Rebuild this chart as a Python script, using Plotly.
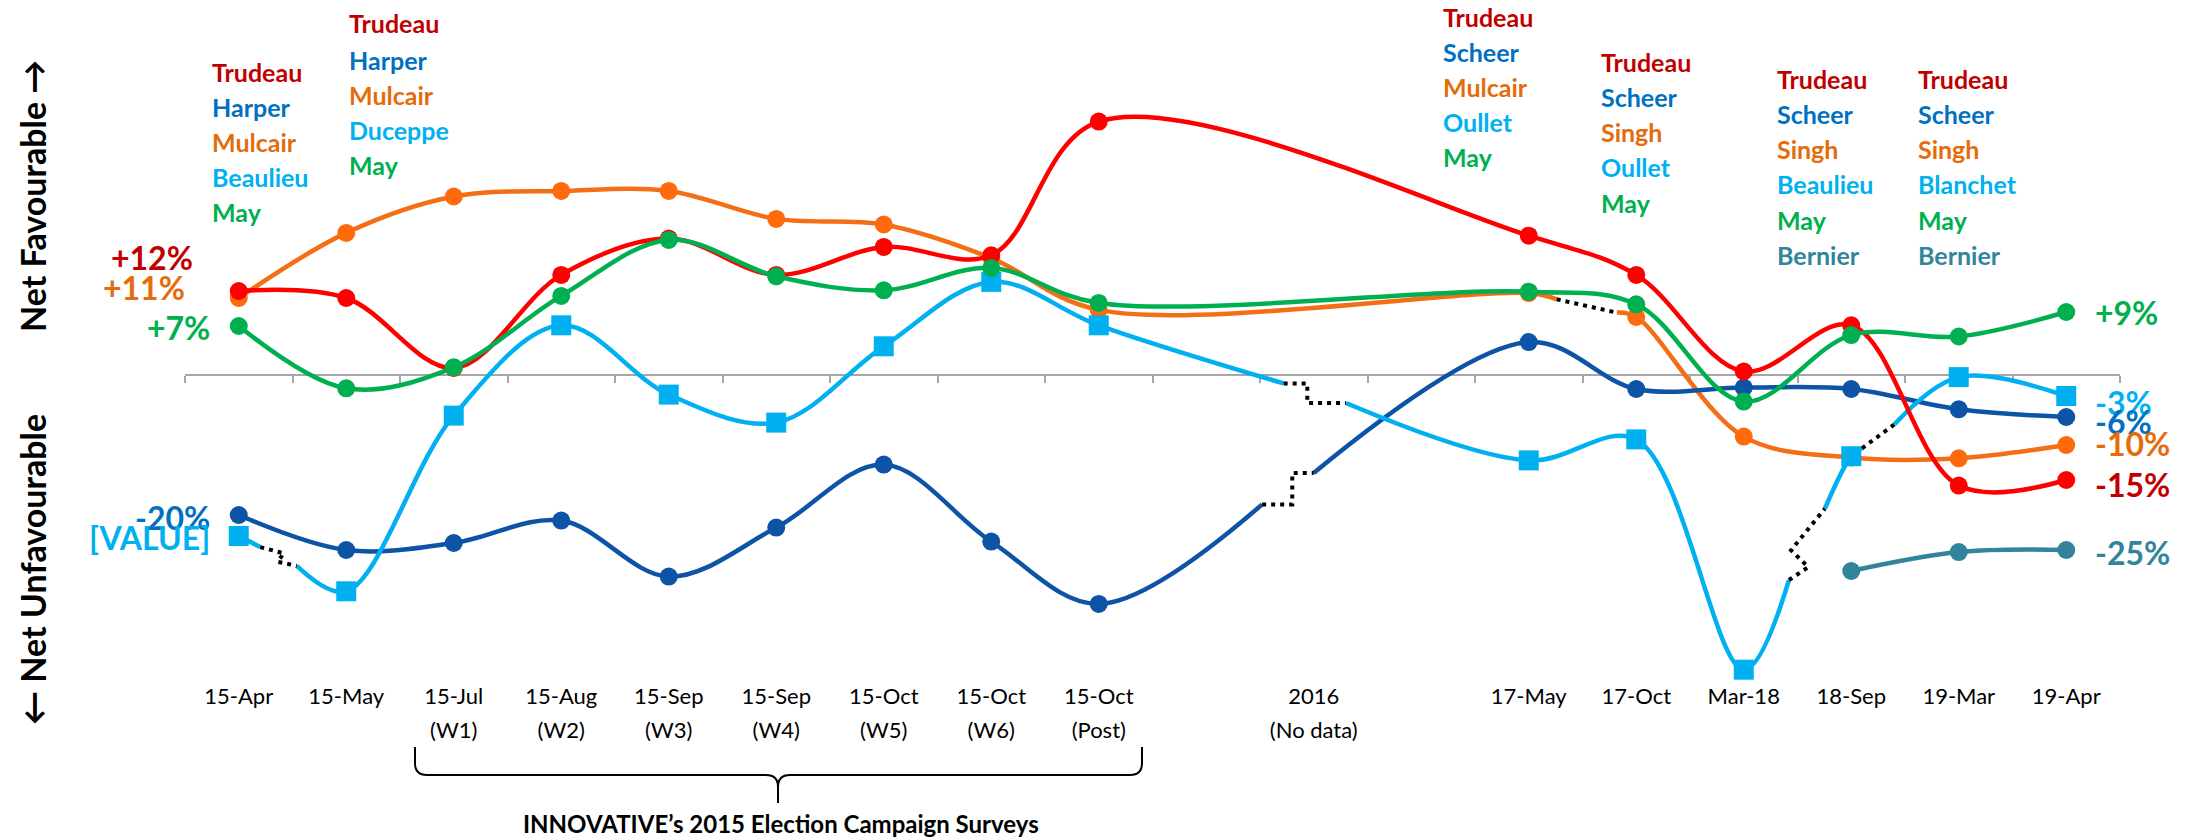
import plotly.graph_objects as go

# ---- categories (18 slots; two blank spacer slots around 2016) ----
categories = ["15-Apr", "15-May", "15-Jul<br>(W1)", "15-Aug<br>(W2)", "15-Sep<br>(W3)",
              "15-Sep<br>(W4)", "15-Oct<br>(W5)", "15-Oct<br>(W6)", "15-Oct<br>(Post)",
              "", "2016<br>(No data)", "", "17-May", "17-Oct", "Mar-18", "18-Sep",
              "19-Mar", "19-Apr"]

# ---- net favourability (%) by party leader ----
liberal = [12, 11, 1, 14.3, 19.5, 14.3, 18.3, 17.1, 36.2, None, None, None,
           19.9, 14.3, 0.5, 7.1, -15.8, -15]
conservative = [-20, -25, -24, -20.8, -28.8, -21.8, -12.8, -23.8, -32.7, None, None, None,
                4.7, -2.0, -1.8, -2.0, -4.9, -6]
ndp = [11, 20.3, 25.5, 26.3, 26.3, 22.3, 21.5, 16.7, 9.3, None, None, None,
       11.7, 8.3, -8.8, -11.8, -11.9, -10]
bloc = [-23, -30.9, -5.8, 7.1, -2.8, -6.8, 4.1, 13.3, 7.1, None, None, None,
        -12.2, -9.2, -42.1, -11.6, -0.3, -3]
green = [7, -1.9, 1.1, 11.3, 19.3, 14.1, 12.1, 15.3, 10.3, None, None, None,
         11.9, 10.1, -3.8, 5.7, 5.5, 9]
ppc = [None] * 15 + [-28, -25.3, -25]

# ---- colours ----
LIB_LINE, LIB_TXT = "#FF0000", "#C00000"
CON_LINE, CON_TXT = "#0D54A7", "#0070C0"
NDP_LINE, NDP_MARK, NDP_TXT = "#F46E16", "#FF6A0C", "#E46C0A"
BQ_LINE, BQ_TXT = "#00B0F0", "#00B0F0"
GRN_LINE, GRN_TXT = "#00B050", "#00B050"
PPC_LINE, PPC_TXT = "#31849B", "#31849B"
AXIS_GREY = "#A6A6A6"
FONT = "Lato"

# series in drawing order: key, values, line colour, marker colour, symbol, leader runs
series = [
    ("ndp", ndp, NDP_LINE, NDP_MARK, "circle", [(0, 12), (13, 17)]),
    ("conservative", conservative, CON_LINE, CON_LINE, "circle", [(0, 8), (12, 17)]),
    ("bloc", bloc, BQ_LINE, BQ_LINE, "square", [(0, 0), (1, 8), (12, 14), (15, 15), (16, 17)]),
    ("liberal", liberal, LIB_LINE, LIB_LINE, "circle", [(0, 17)]),
    ("green", green, GRN_LINE, GRN_LINE, "circle", [(0, 17)]),
    ("ppc", ppc, PPC_LINE, PPC_LINE, "circle", [(15, 17)]),
]

# leader-change connectors: (kind, start fraction, mid fraction, end fraction, jog)
breaks = {
    ("ndp", 12, 13): ("line", 0.26, None, 0.82, None),
    ("conservative", 8, 12): ("step", 0.38, 0.45, 0.50, None),
    ("bloc", 0, 1): ("zig", 0.20, 0.39, 0.54, (0.03, 0.6)),
    ("bloc", 8, 12): ("step", 0.43, 0.485, 0.575, None),
    ("bloc", 14, 15): ("zig", 0.42, 0.52, 0.755, (0.08, -1.2)),
    ("bloc", 15, 16): ("line", 0.10, None, 0.40, None),
}

# ---- layout geometry (pixels) ----
W, H = 2188, 840
L, R, T, B = 185, 2120, 25, 677
ZERO_PX, PX_PER_PCT = 375, 7.0
Y_MAX = (ZERO_PX - T) / PX_PER_PCT
Y_MIN = -(B - ZERO_PX) / PX_PER_PCT
X_MIN, X_MAX = -0.5, len(categories) - 0.5


def xp(px):
    return (px - L) / (R - L)


def yp(py):
    return (B - py) / (B - T)


def along(vals, i, j, f):
    return (i + (j - i) * f, vals[i] + (vals[j] - vals[i]) * f)


fig = go.Figure()

for key, vals, lcol, mcol, symbol, runs in series:
    run_lines = []
    for k, (s, e) in enumerate(runs):
        xs = [i for i in range(s, e + 1) if vals[i] is not None]
        ys = [vals[i] for i in xs]
        if k > 0:
            ps = runs[k - 1][1]
            kind, f1, fm, f2, jog = breaks[(key, ps, s)]
            bx, by = along(vals, ps, s, f2)
            xs, ys = [bx] + xs, [by] + ys
        if k < len(runs) - 1:
            ns = runs[k + 1][0]
            kind, f1, fm, f2, jog = breaks[(key, e, ns)]
            bx, by = along(vals, e, ns, f1)
            xs, ys = xs + [bx], ys + [by]
        run_lines.append((xs, ys))
    for xs, ys in run_lines:
        if len(xs) > 1:
            fig.add_trace(go.Scatter(x=xs, y=ys, mode="lines", cliponaxis=False,
                                     line=dict(color=lcol, width=4.5, shape="spline", smoothing=1.0),
                                     hoverinfo="skip", showlegend=False))
    # dotted connectors at leader changes
    for k in range(len(runs) - 1):
        e, s = runs[k][1], runs[k + 1][0]
        kind, f1, fm, f2, jog = breaks[(key, e, s)]
        p1 = along(vals, e, s, f1)
        p2 = along(vals, e, s, f2)
        if kind == "line":
            pts = [p1, p2]
        elif kind == "step":
            xm = along(vals, e, s, fm)[0]
            pts = [p1, (xm, p1[1]), (xm, p2[1]), p2]
        else:
            mx, my = along(vals, e, s, fm)
            pts = [p1, (mx + jog[0], my + jog[1]), (mx - jog[0], my - jog[1]), p2]
        fig.add_trace(go.Scatter(x=[p[0] for p in pts], y=[p[1] for p in pts], mode="lines",
                                 cliponaxis=False,
                                 line=dict(color="#000000", width=4, dash="4px,5px"),
                                 hoverinfo="skip", showlegend=False))
    mx = [i for i in range(len(vals)) if vals[i] is not None]
    fig.add_trace(go.Scatter(x=mx, y=[vals[i] for i in mx], mode="markers", cliponaxis=False,
                             marker=dict(color=mcol, size=20 if symbol == "square" else 18,
                                         symbol=symbol, line=dict(width=0)),
                             hoverinfo="skip", showlegend=False))

# trace carrying the category-boundary axis drawn at y = 0
fig.add_trace(go.Scatter(x=[X_MIN], y=[None], xaxis="x2", mode="lines",
                         hoverinfo="skip", showlegend=False))

annotations = []

# leader name lists above the lines
name_colour = {"Trudeau": LIB_TXT, "Harper": CON_TXT, "Scheer": CON_TXT,
               "Mulcair": NDP_TXT, "Singh": NDP_TXT, "Beaulieu": BQ_TXT,
               "Duceppe": BQ_TXT, "Oullet": BQ_TXT, "Blanchet": BQ_TXT,
               "May": GRN_TXT, "Bernier": PPC_TXT}
name_groups = [
    (210, [72, 107, 142, 177, 212], ["Trudeau", "Harper", "Mulcair", "Beaulieu", "May"]),
    (347, [23, 60, 95, 130, 165], ["Trudeau", "Harper", "Mulcair", "Duceppe", "May"]),
    (1441, [17, 52, 87, 122, 157], ["Trudeau", "Scheer", "Mulcair", "Oullet", "May"]),
    (1599, [62, 97, 132, 167, 203], ["Trudeau", "Scheer", "Singh", "Oullet", "May"]),
    (1775, [79, 114, 149, 184, 220, 255], ["Trudeau", "Scheer", "Singh", "Beaulieu", "May", "Bernier"]),
    (1916, [79, 114, 149, 184, 220, 255], ["Trudeau", "Scheer", "Singh", "Blanchet", "May", "Bernier"]),
]
for left, ys, names in name_groups:
    for y, n in zip(ys, names):
        annotations.append(dict(x=xp(left), y=yp(y), xref="paper", yref="paper",
                                text=f"<b>{n}</b>", showarrow=False, xanchor="left", yanchor="middle",
                                font=dict(family=FONT, size=25, color=name_colour[n])))


def pct(v):
    return f"<b>{v:+.0f}%</b>"


# first-survey value labels (right-aligned, left of the plot)
left_labels = [
    (195, 257, pct(liberal[0]), LIB_TXT),
    (187, 287, pct(ndp[0]), NDP_TXT),
    (212, 327, pct(green[0]), GRN_TXT),
    (212, 517, pct(conservative[0]), CON_TXT),
    (212, 537, "<b>[VALUE]</b>", BQ_TXT),
]
for x, y, t, c in left_labels:
    annotations.append(dict(x=xp(x), y=yp(y), xref="paper", yref="paper", text=t, showarrow=False,
                            xanchor="right", yanchor="middle",
                            font=dict(family=FONT, size=32, color=c)))

# latest-survey value labels
right_labels = [
    (312, pct(green[-1]), GRN_TXT),
    (402, pct(bloc[-1]), BQ_TXT),
    (422, pct(conservative[-1]), CON_TXT),
    (443, pct(ndp[-1]), NDP_TXT),
    (485, pct(liberal[-1]), LIB_TXT),
    (552, pct(ppc[-1]), PPC_TXT),
]
for y, t, c in right_labels:
    annotations.append(dict(x=xp(2093), y=yp(y), xref="paper", yref="paper", text=t, showarrow=False,
                            xanchor="left", yanchor="middle",
                            font=dict(family=FONT, size=32, color=c)))

# vertical axis captions
annotations.append(dict(x=xp(32), y=yp(196), xref="paper", yref="paper",
                        text="<b>Net Favourable \u2192</b>", textangle=-90, showarrow=False,
                        xanchor="center", yanchor="middle",
                        font=dict(family=FONT, size=34, color="#000000")))
annotations.append(dict(x=xp(32), y=yp(570), xref="paper", yref="paper",
                        text="<b>\u2190 Net Unfavourable</b>", textangle=-90, showarrow=False,
                        xanchor="center", yanchor="middle",
                        font=dict(family=FONT, size=34, color="#000000")))

# campaign bracket caption
annotations.append(dict(x=xp(781), y=yp(823), xref="paper", yref="paper",
                        text="<b>INNOVATIVE\u2019s 2015 Election Campaign Surveys</b>", showarrow=False,
                        xanchor="center", yanchor="middle",
                        font=dict(family=FONT, size=24, color="#000000")))

# curly bracket under the campaign waves
bx0, bx1, bxm = 415, 1142, 778
by0, by1, by2 = 747, 775, 803
r = 12
pts = [
    ("M", bx0, by0), ("L", bx0, by1 - r), ("Q", bx0, by1, bx0 + r, by1),
    ("L", bxm - r, by1), ("Q", bxm, by1, bxm, by1 + r), ("L", bxm, by2),
    ("M", bxm, by1 + r), ("Q", bxm, by1, bxm + r, by1),
    ("L", bx1 - r, by1), ("Q", bx1, by1, bx1, by1 - r), ("L", bx1, by0),
]
path = ""
for p in pts:
    if p[0] == "Q":
        path += f"Q{xp(p[1]):.5f},{yp(p[2]):.5f} {xp(p[3]):.5f},{yp(p[4]):.5f} "
    else:
        path += f"{p[0]}{xp(p[1]):.5f},{yp(p[2]):.5f} "
shapes = [dict(type="path", path=path.strip(), xref="paper", yref="paper",
               line=dict(color="#000000", width=2))]

# category labels: base font sets the line pitch, inner span sets the glyph size
tick_idx = [i for i, c in enumerate(categories) if c]
tick_text = ["<br>".join(f'<span style="font-size:22px">{part}</span>'
                         for part in categories[i].split("<br>")) for i in tick_idx]

fig.update_layout(
    width=W, height=H,
    margin=dict(l=L, r=W - R, t=T, b=H - B, autoexpand=False),
    paper_bgcolor="white", plot_bgcolor="white",
    showlegend=False,
    xaxis=dict(range=[X_MIN, X_MAX], tickvals=tick_idx, ticktext=tick_text,
               showgrid=False, zeroline=False, showline=False, ticks="", tickangle=0,
               tickfont=dict(family=FONT, size=26, color="#000000"), automargin=False),
    xaxis2=dict(range=[X_MIN, X_MAX], overlaying="x", anchor="free",
                position=(0 - Y_MIN) / (Y_MAX - Y_MIN), side="bottom",
                tickvals=[i - 0.5 for i in range(len(categories) + 1)],
                ticks="outside", ticklen=7, tickwidth=2, tickcolor=AXIS_GREY,
                showline=True, linecolor=AXIS_GREY, linewidth=2,
                showticklabels=False, showgrid=False, zeroline=False, layer="below traces"),
    yaxis=dict(range=[Y_MIN, Y_MAX], visible=False, showgrid=False, zeroline=False),
    annotations=annotations,
    shapes=shapes,
)

fig.write_html("out.html")
